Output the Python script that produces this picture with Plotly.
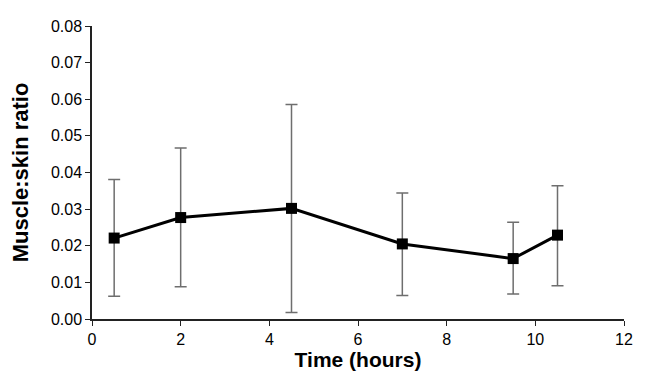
import plotly.graph_objects as go

time_hours = [0.5, 2, 4.5, 7, 9.5, 10.5]
ratio = [0.0221, 0.0277, 0.0302, 0.0205, 0.0165, 0.0229]
err_upper = [0.0381, 0.0467, 0.0586, 0.0344, 0.0264, 0.0364]
err_lower = [0.0062, 0.0088, 0.0018, 0.0064, 0.0068, 0.0091]

plus = [u - v for u, v in zip(err_upper, ratio)]
minus = [v - l for v, l in zip(ratio, err_lower)]

fig = go.Figure()
fig.add_trace(go.Scatter(
    x=time_hours, y=ratio, mode="lines+markers",
    line=dict(color="black", width=3),
    marker=dict(symbol="square", size=11, color="black"),
    error_y=dict(type="data", symmetric=False, array=plus, arrayminus=minus,
                 color="#6e6e6e", thickness=1.5, width=6),
    showlegend=False,
))

# page body has an 8px default margin, so the figure is sized to fit the window
fig.update_layout(
    width=637, height=379,
    margin=dict(l=83, r=21, t=10, b=68),
    paper_bgcolor="white", plot_bgcolor="white",
    font=dict(family="Liberation Sans, Arial, sans-serif", size=16, color="black"),
)
fig.update_xaxes(
    range=[0, 12], dtick=2, tick0=0,
    showline=True, linecolor="#222222", linewidth=1.5,
    ticks="outside", ticklen=5, tickcolor="#222222",
    showgrid=False, zeroline=False,
    title=dict(text="<b>Time (hours)</b>", font=dict(size=21), standoff=4),
)
fig.update_yaxes(
    range=[0, 0.08], dtick=0.01, tick0=0, tickformat=".2f",
    showline=True, linecolor="#222222", linewidth=1.5,
    ticks="outside", ticklen=5, tickcolor="#222222",
    showgrid=False, zeroline=False,
    title=dict(text="<b>Muscle:skin ratio</b>", font=dict(size=22), standoff=18),
)

fig.write_html("out.html")
